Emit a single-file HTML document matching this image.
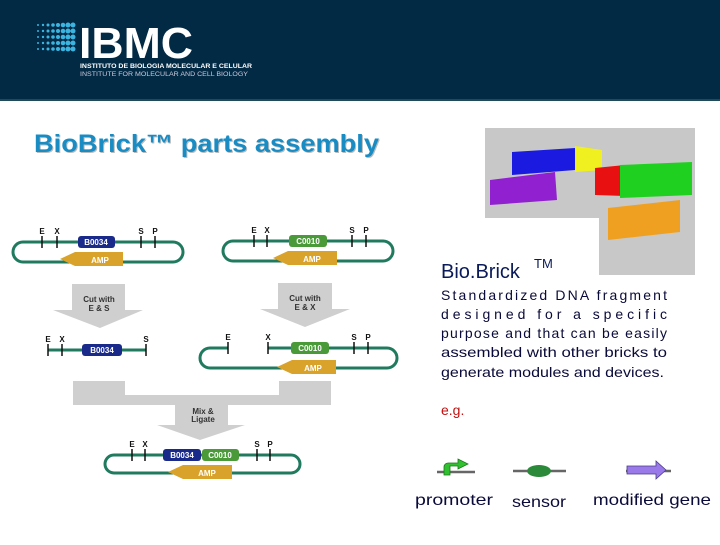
<!DOCTYPE html>
<html><head><meta charset="utf-8"><style>
body{margin:0;width:720px;height:540px;overflow:hidden;background:#fff;font-family:"Liberation Sans",sans-serif}
</style></head><body>
<svg width="720" height="540" xmlns="http://www.w3.org/2000/svg" font-family="Liberation Sans, sans-serif">
<defs><g id="dr"><circle cx="38" cy="0" r="1"/><circle cx="43" cy="0" r="1.2"/><circle cx="48" cy="0" r="1.5"/><circle cx="53" cy="0" r="1.8"/><circle cx="58" cy="0" r="2"/><circle cx="63" cy="0" r="2.3"/><circle cx="68" cy="0" r="2.5"/><circle cx="73" cy="0" r="2.5"/></g></defs>
<rect x="0" y="0" width="720" height="100" fill="#022a45"/>
<rect x="0" y="99" width="720" height="2" fill="#1e4a5a"/>
<g fill="#3bb4e0">
<use href="#dr" y="25"/><use href="#dr" y="31"/><use href="#dr" y="37"/><use href="#dr" y="43"/><use href="#dr" y="49"/>
</g>
<text x="79" y="58" fill="#fff" font-size="44" font-weight="bold" textLength="114" lengthAdjust="spacingAndGlyphs">IBMC</text>
<text x="80" y="68" fill="#fff" font-size="6" font-weight="bold" textLength="172" lengthAdjust="spacingAndGlyphs">INSTITUTO DE BIOLOGIA MOLECULAR E CELULAR</text>
<text x="80" y="76" fill="#ccd" font-size="6" textLength="168" lengthAdjust="spacingAndGlyphs">INSTITUTE FOR MOLECULAR AND CELL BIOLOGY</text>

<text x="35" y="153" fill="#bbb" font-size="25" font-weight="bold" textLength="345" lengthAdjust="spacingAndGlyphs">BioBrick™ parts assembly</text>
<text x="34" y="152" fill="#1a8cc4" font-size="25" font-weight="bold" textLength="345" lengthAdjust="spacingAndGlyphs">BioBrick™ parts assembly</text>

<g fill="#cfcfcf">
<polygon points="72,284 125,284 125,310 143,310 100,328 53,310 72,310"/>
<polygon points="278,283 332,283 332,309 350,309 305,327 260,309 278,309"/>
<polygon points="73,381 125,381 125,395 279,395 279,381 331,381 331,405 228,405 228,425 245,425 200,440 157,425 175,425 175,405 73,405"/>
</g>
<g font-size="8" font-weight="bold" fill="#333" text-anchor="middle">
<text x="99" y="302">Cut with</text><text x="99" y="311">E &amp; S</text>
<text x="305" y="301">Cut with</text><text x="305" y="310">E &amp; X</text>
<text x="203" y="414">Mix &amp;</text><text x="203" y="422">Ligate</text>
</g>

<g fill="none" stroke="#1f7a5e" stroke-width="3">
<rect x="13" y="242" width="170" height="20" rx="10"/>
<rect x="223" y="241" width="170" height="20" rx="10"/>
<line x1="48" y1="350" x2="146" y2="350"/>
<path d="M228,348 H210 a10,10 0 0 0 0,20 H387 a10,10 0 0 0 0,-20 H268"/>
<rect x="105" y="455" width="195" height="18" rx="9"/>
</g>
<g stroke="#111" stroke-width="1.5">
<line x1="42" y1="236" x2="42" y2="248"/><line x1="57" y1="236" x2="57" y2="248"/><line x1="141" y1="236" x2="141" y2="248"/><line x1="155" y1="236" x2="155" y2="248"/>
<line x1="254" y1="235" x2="254" y2="247"/><line x1="267" y1="235" x2="267" y2="247"/><line x1="352" y1="235" x2="352" y2="247"/><line x1="366" y1="235" x2="366" y2="247"/>
<line x1="48" y1="344" x2="48" y2="356"/><line x1="62" y1="344" x2="62" y2="356"/><line x1="146" y1="344" x2="146" y2="356"/>
<line x1="228" y1="342" x2="228" y2="354"/><line x1="268" y1="342" x2="268" y2="354"/><line x1="354" y1="342" x2="354" y2="354"/><line x1="368" y1="342" x2="368" y2="354"/>
<line x1="132" y1="449" x2="132" y2="461"/><line x1="145" y1="449" x2="145" y2="461"/><line x1="257" y1="449" x2="257" y2="461"/><line x1="270" y1="449" x2="270" y2="461"/>
</g>
<g font-size="8" font-weight="bold" fill="#111" text-anchor="middle">
<text x="42" y="234">E</text><text x="57" y="234">X</text><text x="141" y="234">S</text><text x="155" y="234">P</text>
<text x="254" y="233">E</text><text x="267" y="233">X</text><text x="352" y="233">S</text><text x="366" y="233">P</text>
<text x="48" y="342">E</text><text x="62" y="342">X</text><text x="146" y="342">S</text>
<text x="228" y="340">E</text><text x="268" y="340">X</text><text x="354" y="340">S</text><text x="368" y="340">P</text>
<text x="132" y="447">E</text><text x="145" y="447">X</text><text x="257" y="447">S</text><text x="270" y="447">P</text>
</g>
<g font-size="8" font-weight="bold" fill="#fff" text-anchor="middle">
<rect x="78" y="236" width="37" height="12" rx="3" fill="#1a2a8a"/><text x="96" y="245">B0034</text>
<rect x="289" y="235" width="38" height="12" rx="3" fill="#4a9a3a"/><text x="308" y="244">C0010</text>
<rect x="82" y="344" width="40" height="12" rx="3" fill="#1a2a8a"/><text x="102" y="353">B0034</text>
<rect x="291" y="342" width="38" height="12" rx="3" fill="#4a9a3a"/><text x="310" y="351">C0010</text>
<rect x="163" y="449" width="38" height="12" rx="3" fill="#1a2a8a"/><text x="182" y="458">B0034</text>
<rect x="202" y="449" width="37" height="12" rx="3" fill="#4a9a3a"/><text x="220" y="458">C0010</text>
<g fill="#d9a22a">
<polygon points="60,259 75,252 123,252 123,266 75,266"/>
<polygon points="273,258 288,251 337,251 337,265 288,265"/>
<polygon points="277,367 292,360 336,360 336,374 292,374"/>
<polygon points="168,472 183,465 232,465 232,479 183,479"/>
</g>
<text x="100" y="263">AMP</text><text x="312" y="262">AMP</text><text x="313" y="371">AMP</text><text x="207" y="476">AMP</text>
</g>

<rect x="485" y="128" width="210" height="90" fill="#c8c8c8"/>
<rect x="599" y="218" width="96" height="57" fill="#c8c8c8"/>
<polygon points="512,152 575,148 575,170 512,175" fill="#1a1ae0"/>
<polygon points="575,146 602,150 602,170 575,172" fill="#f0f020"/>
<polygon points="490,180 555,172 557,200 490,205" fill="#9020d0"/>
<polygon points="595,168 625,165 625,196 595,195" fill="#e81010"/>
<polygon points="620,165 692,162 692,195 620,198" fill="#20d020"/>
<polygon points="608,208 680,200 680,232 608,240" fill="#f0a020"/>

<text x="441" y="278" fill="#0a1a5a" font-size="20">Bio.Brick</text><text x="534" y="268" fill="#0a1a5a" font-size="13">TM</text>
<g font-size="14" fill="#0a0a3a">
<text x="441" y="300" textLength="226" lengthAdjust="spacing">Standardized DNA fragment</text>
<text x="441" y="319" textLength="226" lengthAdjust="spacing">designed for a specific</text>
<text x="441" y="338" textLength="226" lengthAdjust="spacing">purpose and that can be easily</text>
<text x="441" y="357" textLength="226" lengthAdjust="spacingAndGlyphs">assembled with other bricks to</text>
<text x="441" y="377" textLength="223" lengthAdjust="spacingAndGlyphs">generate modules and devices.</text>
</g>
<text x="441" y="415" fill="#c01010" font-size="14">e.g.</text>

<g stroke="#666" stroke-width="2.5"><line x1="437" y1="472" x2="475" y2="472"/><line x1="513" y1="471" x2="566" y2="471"/><line x1="626" y1="471" x2="671" y2="471"/></g>
<path d="M444,475 V467 a4,4 0 0 1 4,-4 H458 V459 L468,464 L458,469 V466 H450 V475 Z" fill="#30c030" stroke="#1a7a1a" stroke-width="0.8"/>
<ellipse cx="539" cy="471" rx="12" ry="6" fill="#2a8a3a"/>
<path d="M627,466 H656 V461 L666,470 L656,479 V474 H627 Z" fill="#9a7ae8" stroke="#4a3a8a" stroke-width="0.8"/>
<g font-size="16" fill="#0a0a3a">
<text x="415" y="505" textLength="78" lengthAdjust="spacingAndGlyphs">promoter</text>
<text x="512" y="507" textLength="54" lengthAdjust="spacingAndGlyphs">sensor</text>
<text x="593" y="505" textLength="118" lengthAdjust="spacingAndGlyphs">modified gene</text>
</g>
</svg>
</body></html>
